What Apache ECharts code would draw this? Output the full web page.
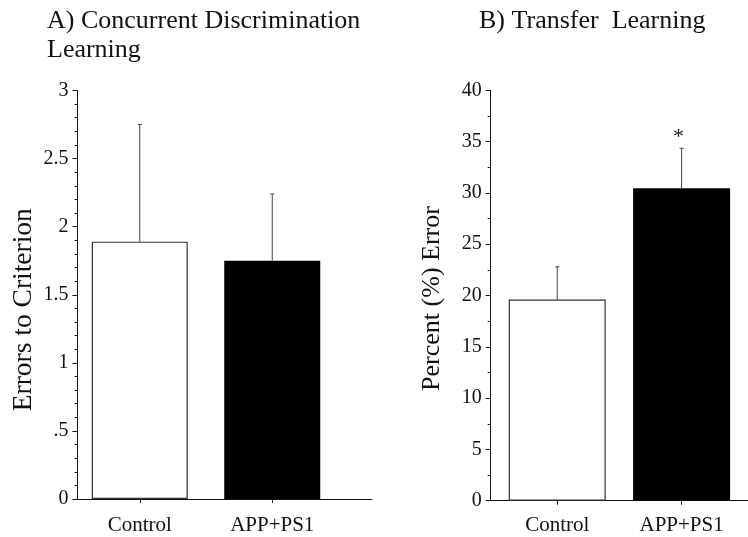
<!DOCTYPE html>
<html>
<head>
<meta charset="utf-8">
<script src="https://cdn.jsdelivr.net/npm/echarts@6/dist/echarts.min.js"></script>
<style>
  html, body { margin: 0; padding: 0; background: #fff; }
  #chart { width: 748px; height: 537px; }
</style>
</head>
<body>
<div id="chart"></div>
<script>
// Data
const groups = ['Control', 'APP+PS1']
const errorsMean = [1.89, 1.75]
const errorsSem = [0.86, 0.49]
const percentMean = [19.6, 30.45]
const percentSem = [3.2, 3.9]
const percentSig = [false, true]
const errorsTicks = ['0', '.5', '1', '1.5', '2', '2.5', '3']

const serif = '"Liberation Serif", "DejaVu Serif", serif'
const ink = '#111'

const chart = echarts.init(document.getElementById('chart'))

// bars sit at x = 1, 2 on a value axis so the axis line can run past the last bar
const barData = means => means.map((v, i) => [i + 1, v])
const errData = (means, sems, sig) => means.map((v, i) => [i + 1, v, v + sems[i], sig && sig[i] ? 1 : 0])

const renderErr = (params, api) => {
  const x = api.value(0)
  const lo = api.coord([x, api.value(1)])
  const hi = api.coord([x, api.value(2)])
  const children = [
    { type: 'line', shape: { x1: lo[0], y1: lo[1], x2: hi[0], y2: hi[1] }, style: { stroke: '#444', lineWidth: 1 } },
    { type: 'line', shape: { x1: hi[0] - 2, y1: hi[1], x2: hi[0] + 2, y2: hi[1] }, style: { stroke: '#444', lineWidth: 1 } }
  ]
  if (api.value(3)) {
    children.push({
      type: 'text',
      style: { text: '*', x: hi[0] - 3, y: hi[1] - 11, align: 'center', verticalAlign: 'middle', font: '22px ' + serif, fill: ink }
    })
  }
  return { type: 'group', children }
}

const xAxis = (gridIndex, min, max, margin) => ({
  type: 'value',
  gridIndex,
  min,
  max,
  splitLine: { show: false },
  axisLine: { lineStyle: { color: ink, width: 1 } },
  axisTick: { customValues: [1, 2], length: 4, lineStyle: { color: ink } },
  axisLabel: {
    customValues: [1, 2],
    formatter: v => groups[Math.round(v) - 1] || '',
    fontFamily: serif,
    fontSize: 21,
    color: ink,
    margin
  }
})

const yAxis = (gridIndex, max, interval, minorSplit, name, nameSize, nameGap, namePad, fmt) => ({
  type: 'value',
  gridIndex,
  min: 0,
  max,
  interval,
  name,
  nameLocation: 'middle',
  nameGap,
  nameTextStyle: { fontFamily: serif, fontSize: nameSize, color: ink, padding: namePad },
  splitLine: { show: false },
  axisLine: { show: true, lineStyle: { color: ink, width: 1 } },
  axisTick: { show: true, length: 5, lineStyle: { color: ink } },
  minorTick: { show: true, splitNumber: minorSplit, length: 3, lineStyle: { color: ink } },
  axisLabel: { fontFamily: serif, fontSize: 20, color: ink, margin: 9, formatter: fmt }
})

const titleStyle = { fontFamily: serif, fontSize: 26, fontWeight: 'normal', color: ink, lineHeight: 29 }

const option = {
  backgroundColor: '#fff',
  animation: false,
  title: [
    { text: 'A) Concurrent Discrimination\nLearning', left: 47, top: 7, padding: 0, textStyle: titleStyle },
    { text: 'B) Transfer  Learning', left: 479, top: 7, padding: 0, textStyle: titleStyle }
  ],
  grid: [
    { left: 77.5, top: 90.5, width: 294.5, height: 408.5 },
    { left: 490.7, top: 90.3, width: 257.3, height: 410.4 }
  ],
  xAxis: [xAxis(0, 0.53, 2.753, 16), xAxis(1, 0.465, 2.534, 14)],
  yAxis: [
    yAxis(0, 3, 0.5, 5, 'Errors to Criterion', 27.5, 40, [0, 30, 0, 0], (v, i) => errorsTicks[i]),
    yAxis(1, 40, 5, 2, 'Percent (%) Error', 26, 46, [0, 6, 0, 0], v => String(v))
  ],
  series: [
    {
      type: 'bar', xAxisIndex: 0, yAxisIndex: 0, barWidth: 96,
      data: barData(errorsMean).map((d, i) => ({
        value: d,
        itemStyle: i === 0 ? { color: '#fff', borderColor: '#333', borderWidth: 1.2 } : { color: '#000' }
      }))
    },
    {
      type: 'custom', xAxisIndex: 0, yAxisIndex: 0, renderItem: renderErr,
      data: errData(errorsMean, errorsSem), z: 1
    },
    {
      type: 'bar', xAxisIndex: 1, yAxisIndex: 1, barWidth: 97,
      data: barData(percentMean).map((d, i) => ({
        value: d,
        itemStyle: i === 0 ? { color: '#fff', borderColor: '#333', borderWidth: 1.2 } : { color: '#000' }
      }))
    },
    {
      type: 'custom', xAxisIndex: 1, yAxisIndex: 1, renderItem: renderErr,
      data: errData(percentMean, percentSem, percentSig), z: 1
    }
  ]
}

chart.setOption(option)
</script>
</body>
</html>
